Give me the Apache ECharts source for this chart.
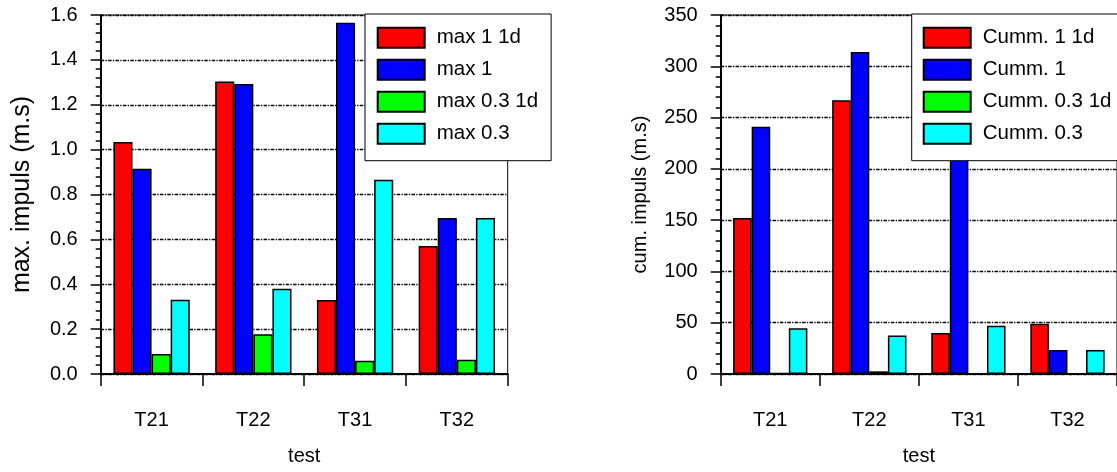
<!DOCTYPE html>
<html>
<head>
<meta charset="utf-8">
<script src="https://cdn.jsdelivr.net/npm/echarts@6/dist/echarts.min.js"></script>
<style>
  html, body { margin: 0; padding: 0; background: #fff; }
  #max-chart { position: absolute; left: 0; top: 0; width: 560px; height: 472px; }
  #cum-chart { position: absolute; left: 560px; top: 0; width: 557px; height: 472px; }
</style>
</head>
<body>
<div id="max-chart"></div>
<div id="cum-chart"></div>
<script>
var tests = ["T21", "T22", "T31", "T32"];

var maxNames = ["max 1 1d", "max 1", "max 0.3 1d", "max 0.3"];
var max1_1d = [1.034, 1.304, 0.33, 0.57];
var max1 = [0.915, 1.293, 1.565, 0.695];
var max03_1d = [0.089, 0.177, 0.059, 0.064];
var max03 = [0.331, 0.38, 0.866, 0.695];

var cumNames = ["Cumm. 1 1d", "Cumm. 1", "Cumm. 0.3 1d", "Cumm. 0.3"];
var cumm1_1d = [152, 267, 40, 49];
var cumm1 = [241, 314, 210, 23.5];
var cumm03_1d = [1, 2.6, 0, 0];
var cumm03 = [44.5, 37.5, 47, 23.5];

var colors = ["#ff0000", "#0000ff", "#00ff00", "#00ffff"];
var font = "Liberation Sans, Arial, Helvetica, sans-serif";
// dash-dot grid lines
var gridDash = [3.5, 1.3, 1.3, 1.3];

function barSeries(names, values) {
  return names.map(function (name, i) {
    return {
      name: name,
      type: "bar",
      data: values[i],
      barGap: "0%",
      barCategoryGap: "25%",
      itemStyle: { color: colors[i], borderColor: "#000", borderWidth: 1.5 },
      emphasis: { disabled: true },
    };
  });
}

function xAxisCfg() {
  return {
    type: "category",
    data: tests,
    name: "test",
    nameLocation: "middle",
    nameGap: 72,
    nameTextStyle: { color: "#000", fontSize: 20, fontFamily: font },
    axisLine: { lineStyle: { color: "#000", width: 2 } },
    axisTick: { show: true, length: 12, interval: 0, lineStyle: { color: "#000", width: 1.5 } },
    axisLabel: { color: "#000", fontSize: 20, fontFamily: font, margin: 36 },
    splitLine: { show: false },
  };
}

function legendCfg(names, left, pad) {
  return {
    data: names,
    orient: "vertical",
    left: left,
    top: 14,
    icon: "rect",
    itemWidth: 47,
    itemHeight: 20,
    itemGap: 10,
    padding: pad,
    backgroundColor: "#fff",
    borderColor: "#000",
    borderWidth: 1,
    borderRadius: 0,
    selectedMode: false,
    textStyle: { color: "#000", fontSize: 20.5, lineHeight: 20, fontFamily: font, padding: [0, 0, 0, 7] },
  };
}

function renderMaxChart() {
  var chartDom = document.getElementById("max-chart");
  var myChart = echarts.init(chartDom);
  var option;

  option = {
    animation: false,
    grid: {
      left: 100.7,
      right: 52.3,
      top: 15,
      bottom: 98,
      show: true,
      borderColor: "#000",
      borderWidth: 1,
    },
    legend: legendCfg(maxNames, 365, [12.7, 13, 16, 11.7]),
    xAxis: xAxisCfg(),
    yAxis: {
      type: "value",
      min: 0,
      max: 1.6,
      interval: 0.2,
      name: "max. impuls (m.s)",
      nameLocation: "middle",
      nameGap: 66,
      nameTextStyle: { color: "#000", fontSize: 25, fontFamily: font },
      axisLine: { show: true, lineStyle: { color: "#000", width: 2 } },
      axisTick: { show: true, length: 10, lineStyle: { color: "#000", width: 1.5 } },
      minorTick: { show: true, splitNumber: 5, length: 5, lineStyle: { color: "#000", width: 1.5 } },
      axisLabel: {
        color: "#000",
        fontSize: 20,
        fontFamily: font,
        margin: 23,
        formatter: function (v) {
          return v.toFixed(1);
        },
      },
      splitLine: { show: true, lineStyle: { color: "#000", width: 1.3, type: gridDash } },
    },
    series: barSeries(maxNames, [max1_1d, max1, max03_1d, max03]),
  };

  option && myChart.setOption(option);
}

function renderCumChart() {
  var chartDom = document.getElementById("cum-chart");
  var myChart = echarts.init(chartDom);
  var option;

  option = {
    animation: false,
    grid: {
      left: 160.7,
      right: -9.7,
      top: 15,
      bottom: 98,
      show: true,
      borderColor: "#000",
      borderWidth: 1,
    },
    legend: legendCfg(cumNames, 351.7, [12.7, 13, 16, 11]),
    xAxis: xAxisCfg(),
    yAxis: {
      type: "value",
      min: 0,
      max: 350,
      interval: 50,
      name: "cum. impuls (m.s)",
      nameLocation: "middle",
      nameGap: 70,
      nameTextStyle: { color: "#000", fontSize: 20, fontFamily: font },
      axisLine: { show: true, lineStyle: { color: "#000", width: 2 } },
      axisTick: { show: true, length: 10, lineStyle: { color: "#000", width: 1.5 } },
      minorTick: { show: true, splitNumber: 5, length: 5, lineStyle: { color: "#000", width: 1.5 } },
      axisLabel: { color: "#000", fontSize: 20, fontFamily: font, margin: 23 },
      splitLine: { show: true, lineStyle: { color: "#000", width: 1.3, type: gridDash } },
    },
    series: barSeries(cumNames, [cumm1_1d, cumm1, cumm03_1d, cumm03]),
  };

  option && myChart.setOption(option);
}

renderMaxChart();
renderCumChart();
</script>
</body>
</html>
